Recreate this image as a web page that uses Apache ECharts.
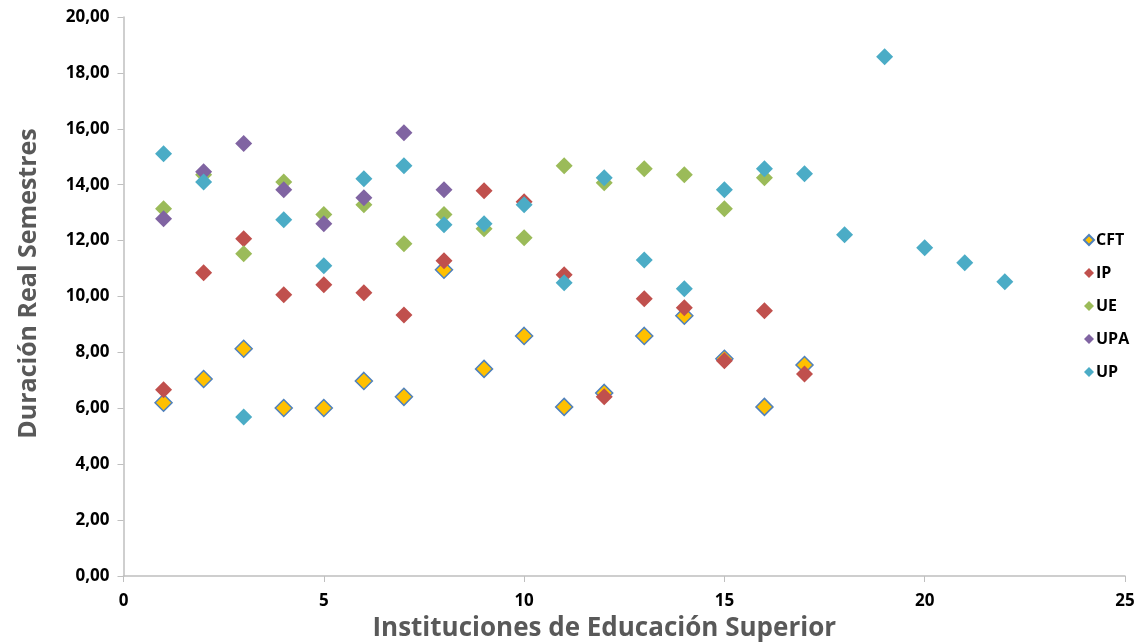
<!DOCTYPE html>
<html>
<head>
<meta charset="utf-8">
<script src="https://cdn.jsdelivr.net/npm/echarts@6/dist/echarts.min.js"></script>
<style>html,body{margin:0;padding:0;background:#fff}#c{width:1134px;height:642px}</style>
</head>
<body>
<div id="c"></div>
<script>
var seriesNames = ['CFT', 'IP', 'UE', 'UPA', 'UP'];
var cftX = [1,2,3,4,5,6,7,8,9,10,11,12,13,14,15,16,17];
var cftY = [6.20,7.05,8.13,6.01,6.01,6.98,6.41,10.96,7.41,8.59,6.05,6.55,8.59,9.31,7.77,6.05,7.55];
var ipX = [1,2,3,4,5,6,7,8,9,10,11,12,13,14,15,16,17];
var ipY = [6.66,10.85,12.07,10.06,10.42,10.13,9.34,11.28,13.78,13.39,10.78,6.41,9.92,9.60,7.70,9.49,7.23];
var ueX = [1,2,3,4,5,6,7,8,9,10,11,12,13,14,15,16];
var ueY = [13.14,14.36,11.53,14.10,12.93,13.28,11.89,12.93,12.42,12.10,14.68,14.07,14.57,14.36,13.14,14.25];
var upaX = [1,2,3,4,5,6,7,8];
var upaY = [12.78,14.46,15.47,13.82,12.60,13.53,15.86,13.82];
var upX = [1,2,3,4,5,6,7,8,9,10,11,12,13,14,15,16,17,18,19,20,21,22];
var upY = [15.11,14.10,5.69,12.75,11.10,14.21,14.68,12.57,12.60,13.28,10.49,14.25,11.31,10.28,13.82,14.57,14.39,12.21,18.58,11.74,11.21,10.53];

var xTitle = 'Instituciones de Educación Superior';
var yTitle = 'Duración Real Semestres';
var colors = ['#FFC000', '#C0504D', '#9BBB59', '#8064A2', '#4BACC6'];
var FONT = 'Open Sans';

function pairs(xs, ys) { return xs.map(function (x, i) { return [x, ys[i]]; }); }
var allData = [pairs(cftX, cftY), pairs(ipX, ipY), pairs(ueX, ueY), pairs(upaX, upaY), pairs(upX, upY)];

var series = seriesNames.map(function (n, i) {
  var style = { color: colors[i], opacity: 1 };
  if (i === 0) { style.borderColor = '#4F81BD'; style.borderWidth = 1.5; }
  return {
    name: n, type: 'scatter', symbol: 'diamond', symbolSize: 17,
    data: allData[i], itemStyle: style, z: 2 + i,
    emphasis: { disabled: true }
  };
});

var chart = echarts.init(document.getElementById('c'));
chart.setOption({
  animation: false,
  backgroundColor: '#fff',
  grid: { left: 123.5, right: 9, top: 17, bottom: 66, containLabel: false, outerBoundsMode: 'none' },
  legend: {
    orient: 'vertical', left: 1078, top: 225, itemGap: 13,
    itemWidth: 10, itemHeight: 10, icon: 'diamond',
    data: seriesNames,
    textStyle: { fontFamily: FONT, fontWeight: 'bold', fontSize: 16, color: '#000', lineHeight: 20, padding: [0, 0, 0, -3] }
  },
  xAxis: {
    type: 'value', min: 0, max: 25, interval: 5,
    splitLine: { show: false },
    axisLine: { lineStyle: { color: '#BFBFBF', width: 1.5 } },
    axisTick: { show: true, length: 6, lineStyle: { color: '#BFBFBF' } },
    axisLabel: { color: '#000', fontFamily: FONT, fontWeight: 'bold', fontSize: 17, margin: 17 },
    name: xTitle, nameLocation: 'middle', nameGap: 40,
    nameTextStyle: { fontFamily: FONT, fontWeight: 'bold', fontSize: 26, color: '#595959', padding: [0, 40, 0, 0] }
  },
  yAxis: {
    type: 'value', min: 0, max: 20, interval: 2,
    splitLine: { show: false },
    axisLine: { show: true, lineStyle: { color: '#BFBFBF', width: 1.5 } },
    axisTick: { show: true, length: 6, lineStyle: { color: '#BFBFBF' } },
    axisLabel: { color: '#000', fontFamily: FONT, fontWeight: 'bold', fontSize: 17, margin: 14,
      formatter: function (v) { return v.toFixed(2).replace('.', ','); } },
    name: yTitle, nameLocation: 'middle', nameGap: 82, nameRotate: 90,
    nameTextStyle: { fontFamily: FONT, fontWeight: 'bold', fontSize: 25, color: '#595959', padding: [0, 0, 0, 26] }
  },
  series: series
});
</script>
</body>
</html>
